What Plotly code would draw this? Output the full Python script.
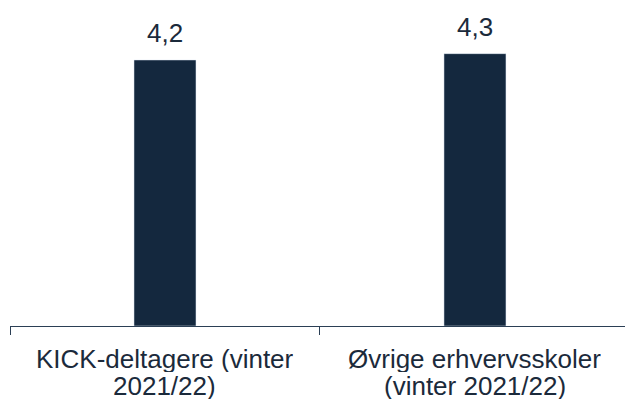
import plotly.graph_objects as go

categories = ["KICK-deltagere (vinter 2021/22)", "Øvrige erhvervsskoler (vinter 2021/22)"]
label_lines = [["KICK-deltagere (vinter", "2021/22)"], ["Øvrige erhvervsskoler", "(vinter 2021/22)"]]
values = [4.2, 4.3]

bar_color = "#14283e"
text_color = "#1b2a3b"
axis_color = "#2b3f55"
FONT = "Liberation Sans, Arial"

fig = go.Figure()
fig.add_trace(go.Bar(
    x=categories, y=values, marker_color=bar_color, width=0.2,
    hoverinfo="skip",
))
for c, v in zip(categories, values):
    fig.add_annotation(
        x=c, y=v, text=f"{v:.1f}".replace(".", ","), showarrow=False,
        yanchor="bottom", yshift=10,
        font=dict(family=FONT, size=26, color=text_color),
    )
line_shifts = [-17, -44]
for c, lines in zip(categories, label_lines):
    for ln, sh in zip(lines, line_shifts):
        fig.add_annotation(
            x=c, xref="x", y=0, yref="paper", text=ln, showarrow=False,
            yanchor="top", yshift=sh, height=27, valign="middle",
            font=dict(family=FONT, size=26, color=text_color),
        )

fig.update_layout(
    width=625, height=401,
    margin=dict(l=10, r=0, t=0, b=75),
    paper_bgcolor="white", plot_bgcolor="white",
    showlegend=False,
    font=dict(family=FONT, size=26, color=text_color),
)
fig.update_xaxes(
    type="category", range=[-0.5, 1.484],
    showline=True, linecolor=axis_color, linewidth=1,
    ticks="outside", tickson="boundaries", ticklen=8, tickcolor=axis_color,
    showgrid=False, showticklabels=False,
)
fig.update_yaxes(visible=False, range=[0, 5.147], showgrid=False)

fig.write_html("out.html")
